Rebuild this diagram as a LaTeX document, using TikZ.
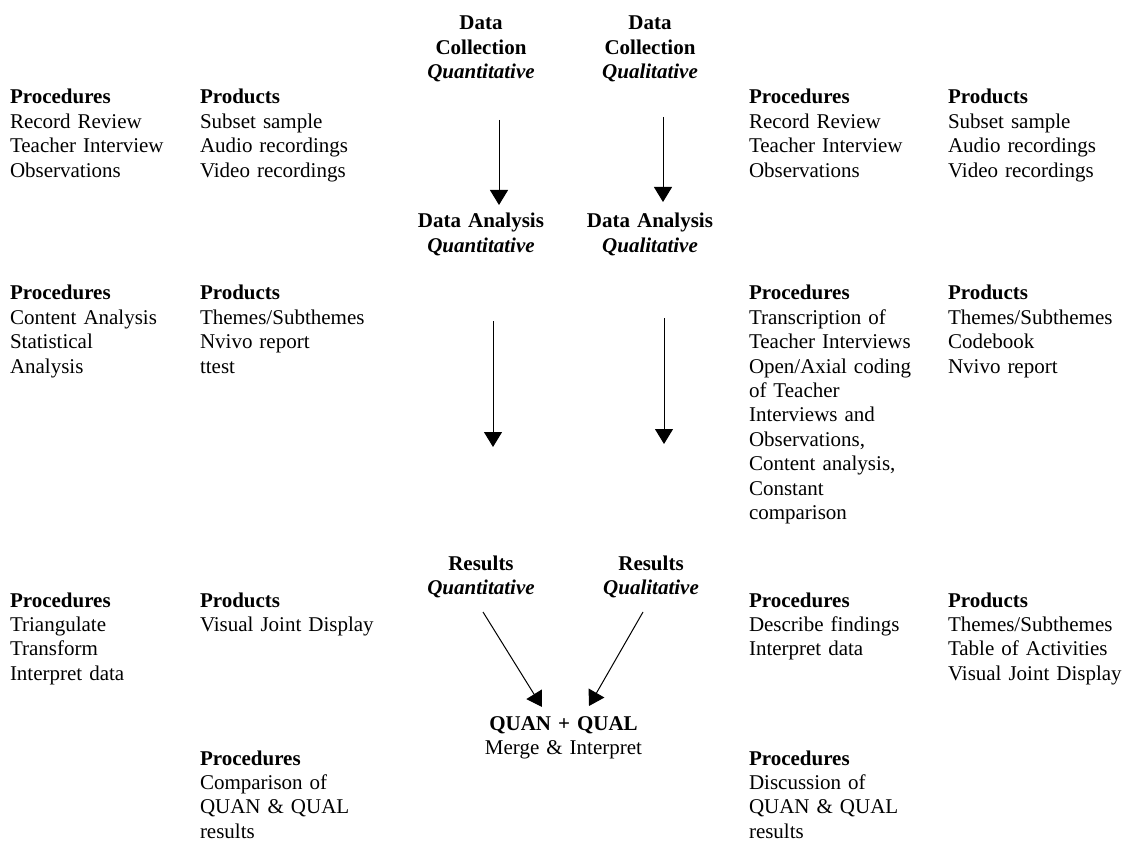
\documentclass[tikz,border=0pt]{standalone}
\usepackage{fontspec}
\setmainfont{Liberation Serif}
\usetikzlibrary{arrows.meta}
\begin{document}
\begin{tikzpicture}[x=1pt,y=-1pt,
  txt/.style={font=\fontsize{21}{24.4}\selectfont, inner sep=0pt, outer sep=0pt},
  blk/.style={txt, text width=260pt, align=left, anchor=base west},
  ctr/.style={txt, text width=170pt, align=center, anchor=base},
  arr/.style={line width=1pt, -{Triangle[length=15pt,width=18pt]}}]
\useasboundingbox[fill=white] (0,0) rectangle (1124,842);

% centre column
\node[ctr] (dcqn) at (481,30) {\textbf{Data}\\\textbf{Collection}\\\textbf{\textit{Quantitative}}};
\node[ctr] (dcql) at (650,30) {\textbf{Data}\\\textbf{Collection}\\\textbf{\textit{Qualitative}}};
\node[ctr] (daqn) at (481,228) {\textbf{Data Analysis}\\\textbf{\textit{Quantitative}}};
\node[ctr] (daql) at (650,228) {\textbf{Data Analysis}\\\textbf{\textit{Qualitative}}};
\node[ctr] (rsqn) at (481,570) {\textbf{Results}\\\textbf{\textit{Quantitative}}};
\node[ctr] (rsql) at (651,570) {\textbf{Results}\\\textbf{\textit{Qualitative}}};
\node[ctr] (merge) at (563.5,730) {\textbf{QUAN + QUAL}\\Merge \& Interpret};

% row 1
\node[blk] (p1l) at (10,104) {\textbf{Procedures}\\Record Review\\Teacher Interview\\Observations};
\node[blk] (d1l) at (200,104) {\textbf{Products}\\Subset sample\\Audio recordings\\Video recordings};
\node[blk] (p1r) at (749,104) {\textbf{Procedures}\\Record Review\\Teacher Interview\\Observations};
\node[blk] (d1r) at (948,104) {\textbf{Products}\\Subset sample\\Audio recordings\\Video recordings};

% row 2
\node[blk] (p2l) at (10,300) {\textbf{Procedures}\\Content Analysis\\Statistical\\Analysis};
\node[blk] (d2l) at (200,300) {\textbf{Products}\\Themes/Subthemes\\Nvivo report\\ttest};
\node[blk] (p2r) at (749,300) {\textbf{Procedures}\\Transcription of\\Teacher Interviews\\Open/Axial coding\\of Teacher\\Interviews and\\Observations,\\Content analysis,\\Constant\\comparison};
\node[blk] (d2r) at (948,300) {\textbf{Products}\\Themes/Subthemes\\Codebook\\Nvivo report};

% row 3
\node[blk] (p3l) at (10,607) {\textbf{Procedures}\\Triangulate\\Transform\\Interpret data};
\node[blk] (d3l) at (200,607) {\textbf{Products}\\Visual Joint Display};
\node[blk] (p3r) at (749,607) {\textbf{Procedures}\\Describe findings\\Interpret data};
\node[blk] (d3r) at (948,607) {\textbf{Products}\\Themes/Subthemes\\Table of Activities\\Visual Joint Display};

% row 4
\node[blk] (p4l) at (200,765) {\textbf{Procedures}\\Comparison of\\QUAN \& QUAL\\results};
\node[blk] (p4r) at (749,765) {\textbf{Procedures}\\Discussion of\\QUAN \& QUAL\\results};

% arrow end points
\coordinate (a1s) at (499,120); \coordinate (a1e) at (499,205);
\coordinate (a2s) at (663,117); \coordinate (a2e) at (663,202);
\coordinate (a3s) at (493,321); \coordinate (a3e) at (493,447);
\coordinate (a4s) at (664,318); \coordinate (a4e) at (664,444);
\coordinate (a5s) at (483,612); \coordinate (a5e) at (542,707);
\coordinate (a6s) at (643,612); \coordinate (a6e) at (589,706);

\draw[arr] (a1s) -- (a1e);
\draw[arr] (a2s) -- (a2e);
\draw[arr] (a3s) -- (a3e);
\draw[arr] (a4s) -- (a4e);
\draw[arr] (a5s) -- (a5e);
\draw[arr] (a6s) -- (a6e);
\end{tikzpicture}
\end{document}
